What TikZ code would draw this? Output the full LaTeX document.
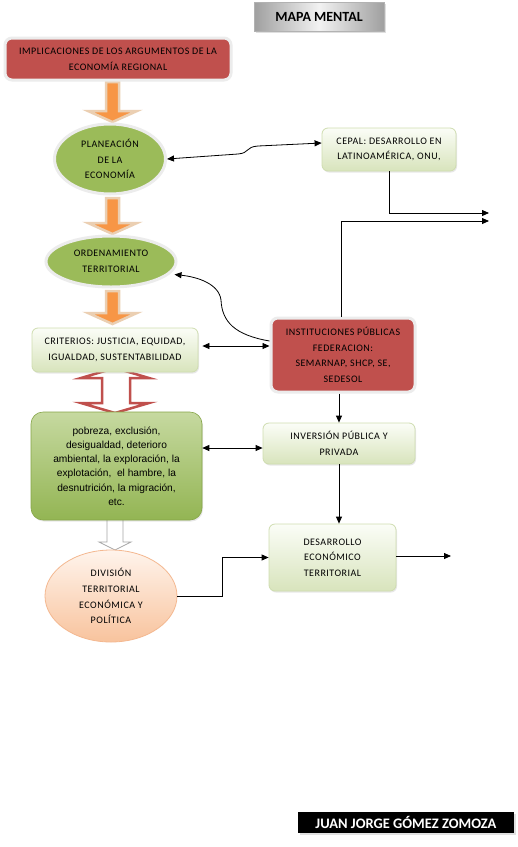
\documentclass[tikz,border=0pt]{standalone}
\usepackage{fontspec}
\setmainfont{Carlito}
\newfontfamily\boxfont[LetterSpace=5]{Carlito}
\newfontfamily\arialfont{Liberation Sans}
\usetikzlibrary{arrows.meta,shapes.geometric,calc,shadows}
\definecolor{cRed}{HTML}{C0504D}
\definecolor{cGreen}{HTML}{9BBB59}
\definecolor{cOrange}{HTML}{F79646}
\definecolor{cTan}{HTML}{EBCFB2}
\definecolor{cLgTop}{HTML}{FBFDF7}
\definecolor{cLgBot}{HTML}{D8E4BC}
\definecolor{cLgLine}{HTML}{CFDDB0}
\definecolor{cPobTop}{HTML}{C6D9A0}
\definecolor{cPobBot}{HTML}{93B553}
\definecolor{cPobLine}{HTML}{86A548}
\definecolor{cDivTop}{HTML}{FFF4EC}
\definecolor{cDivBot}{HTML}{F8C39D}
\definecolor{cDivLine}{HTML}{F4B890}
\tikzset{
  lbl/.style={font=\boxfont\fontsize{10}{15.7}\selectfont, align=center, inner sep=0pt},
  redbox/.style={lbl, rectangle, rounded corners=7pt, fill=cRed, draw=gray!15, line width=3pt},
  lgbox/.style={lbl, rectangle, rounded corners=6pt, top color=cLgTop, bottom color=cLgBot, draw=cLgLine, line width=0.8pt, drop shadow={opacity=0.18, shadow xshift=1pt, shadow yshift=-1.5pt}},
  gell/.style={lbl, ellipse, fill=cGreen, draw=gray!15, line width=3pt},
  pobbox/.style={rectangle, rounded corners=12pt, top color=cPobTop, bottom color=cPobBot, draw=cPobLine, line width=0.6pt, align=center, inner sep=0pt, font=\arialfont\fontsize{10.2}{14.2}\selectfont, drop shadow={opacity=0.18, shadow xshift=1pt, shadow yshift=-1.5pt}},
  divell/.style={lbl, ellipse, top color=cDivTop, bottom color=cDivBot, draw=cDivLine, line width=0.8pt},
  mapabox/.style={rectangle, left color=gray!75, right color=gray!75, middle color=gray!10, draw=gray!60, line width=0.5pt, font=\bfseries\fontsize{14}{16}\selectfont, inner sep=0pt, drop shadow={opacity=0.25, shadow xshift=1.5pt, shadow yshift=-1.5pt}},
  juanbox/.style={rectangle, fill=black, text=white, font=\bfseries\fontsize{14.5}{16}\selectfont, inner sep=0pt, drop shadow={fill=gray!40, opacity=0.6, shadow xshift=2pt, shadow yshift=-2pt}},
  orangearrow/.style={fill=cOrange, draw=cTan, line width=2.5pt, line join=miter},
  redhollow/.style={fill=white, draw=cRed, line width=2.5pt, line join=miter},
  grayhollow/.style={fill=white, draw=gray!70, line width=0.8pt},
  conn/.style={line width=0.8pt, -{Triangle[length=7pt,width=6pt]}},
  dconn/.style={line width=0.8pt, {Triangle[length=7pt,width=6pt]}-{Triangle[length=7pt,width=6pt]}},
}
\begin{document}
\begin{tikzpicture}[x=1pt,y=-1pt]
\useasboundingbox (0,0) rectangle (518,847);
\fill[white] (0,0) rectangle (518,847);

% block arrows (shapes)
\path[orangearrow] (106,82) -- (119,82) -- (119,111) -- (137,111) -- (112.5,122) -- (88,111) -- (106,111) -- cycle;
\path[orangearrow] (106,198) -- (119,198) -- (119,223) -- (137,223) -- (112.5,234) -- (88,223) -- (106,223) -- cycle;
\path[orangearrow] (106,291) -- (119,291) -- (119,313) -- (137,313) -- (112.5,324) -- (88,313) -- (106,313) -- cycle;
\path[redhollow] (115,368) -- (149,378) -- (130,378) -- (130,403) -- (149,403) -- (115,413) -- (81,403) -- (102,403) -- (102,378) -- (81,378) -- cycle;
\path[grayhollow] (107,519) -- (123,519) -- (123,542) -- (131,542) -- (115,550) -- (99,542) -- (107,542) -- cycle;

% nodes
\node[mapabox, minimum width=130pt, minimum height=29pt] (mapa) at (319,16.5) {MAPA MENTAL};
\node[redbox, minimum width=226pt, minimum height=42pt] (impl) at (118,59) {IMPLICACIONES DE LOS ARGUMENTOS DE LA\\ECONOMÍA REGIONAL};
\node[gell, minimum width=111pt, minimum height=70pt] (plan) at (110,159) {PLANEACIÓN\\DE LA\\ECONOMÍA};
\node[lgbox, minimum width=134pt, minimum height=43pt] (cepal) at (389,149.5) {CEPAL: DESARROLLO EN\\LATINOAMÉRICA, ONU,};
\node[gell, minimum width=130pt, minimum height=51pt] (ord) at (111,261.5) {ORDENAMIENTO\\TERRITORIAL};
\node[lgbox, minimum width=166pt, minimum height=44pt] (crit) at (115,350) {CRITERIOS: JUSTICIA, EQUIDAD,\\IGUALDAD, SUSTENTABILIDAD};
\node[redbox, minimum width=144pt, minimum height=74pt] (inst) at (343,355) {INSTITUCIONES PÚBLICAS\\FEDERACION:\\SEMARNAP, SHCP, SE,\\SEDESOL};
\node[pobbox, minimum width=171pt, minimum height=108pt] (pob) at (116.5,466) {pobreza, exclusión,\\desigualdad, deterioro\\ambiental, la exploración, la\\explotación,~ el hambre, la\\desnutrición, la migración,\\etc.};
\node[lgbox, minimum width=152pt, minimum height=41pt] (inv) at (339,443.5) {INVERSIÓN PÚBLICA Y\\PRIVADA};
\node[lgbox, minimum width=127pt, minimum height=67pt] (des) at (332.5,557.5) {DESARROLLO\\ECONÓMICO\\TERRITORIAL};
\node[divell, minimum width=132pt, minimum height=92pt] (div) at (111,596) {DIVISIÓN\\TERRITORIAL\\ECONÓMICA Y\\POLÍTICA};
\node[juanbox, minimum width=216pt, minimum height=21pt] (juan) at (406,822.5) {JUAN JORGE GÓMEZ ZOMOZA};

% free ends and helper points
\coordinate (e1) at (489,213);
\coordinate (e2) at (489,221);
\coordinate (e3) at (451,556);
\coordinate (c1) at ($(crit.east)+(4,-4)$);
\coordinate (i1) at ($(inv.west)+(0,4.5)$);

% connectors
\draw[dconn] (plan.east) -- (238,154) .. controls (250,153) and (245,147) .. (258,146) -- ($(cepal.west)+(0,-6.5)$);
\draw[conn] (cepal.south) |- (e1);
\draw[conn] ($(inst.north)+(-2,0)$) |- (e2);
\draw[conn] ($(inst.west)+(0,-14)$) .. controls (235,335) and (222,322) .. (221,300) .. controls (219,284) and (198,277) .. ($(ord.east)+(-3,13)$);
\draw[dconn] (c1) -- (c1 -| inst.west);
\draw[conn] (inv.north |- inst.south) -- (inv.north);
\draw[dconn] (i1 -| pob.east) -- (i1);
\draw[conn] (inv.south) -- (inv.south |- des.north);
\draw[conn] (des.east |- e3) -- (e3);
\draw[conn] (div.east) -- ++(45,0) |- (des.west);
\end{tikzpicture}
\end{document}
